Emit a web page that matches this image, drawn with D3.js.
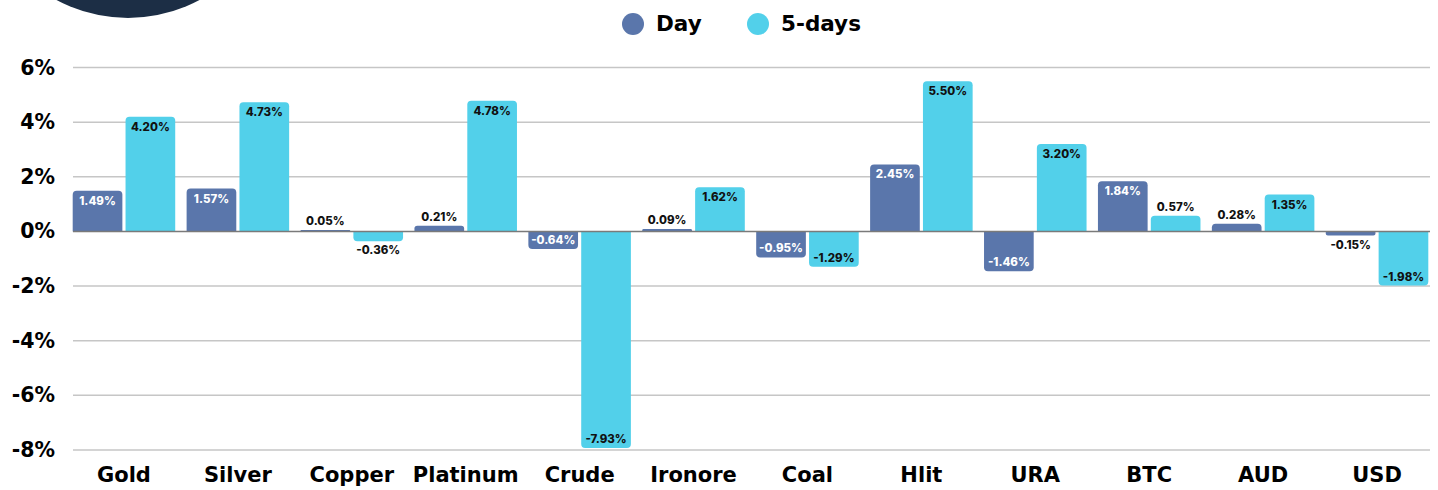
<!DOCTYPE html>
<html lang="en">
<head>
<meta charset="UTF-8">
<title>Day vs 5-days</title>
<script src="https://d3js.org/d3.v7.min.js"></script>
<style>
    body { margin: 0; background: #fff; font-family: "DejaVu Sans", Inter, Arial, sans-serif; }
    svg text { font-weight: 700; }
    .val { font-family: Inter, "Noto Sans", Arial, sans-serif; font-weight: 800; }
</style>
</head>
<body>
<svg id="chart" width="1438" height="490"></svg>
<script>
// data
const categories = ["Gold", "Silver", "Copper", "Platinum", "Crude", "Ironore", "Coal", "Hlit", "URA", "BTC", "AUD", "USD"];
const dayValues = [1.49, 1.57, 0.05, 0.21, -0.64, 0.09, -0.95, 2.45, -1.46, 1.84, 0.28, -0.15];
const fiveDayValues = [4.20, 4.73, -0.36, 4.78, -7.93, 1.62, -1.29, 5.50, 3.20, 0.57, 1.35, -1.98];
const seriesNames = ["Day", "5-days"];
const yTicks = [6, 4, 2, 0, -2, -4, -6, -8];

const colors = { "Day": "#5a76ab", "5-days": "#52d0ea" };
const labelColors = { "Day": "#ffffff", "5-days": "#111111" };

const svg = d3.select("#chart");
const W = 1438, H = 490;

// dark decoration top-left
svg.append("circle").attr("cx", 128).attr("cy", -133).attr("r", 151).attr("fill", "#1c2e45");

const x0 = d3.scaleBand().domain(categories).range([67, 1434]).paddingInner(0.1).paddingOuter(0.05);
const x1 = d3.scaleBand().domain(seriesNames).range([0, x0.bandwidth()]).paddingInner(0.06);
const y = d3.scaleLinear().domain([-8, 6]).range([450, 67.5]);

// grid
svg.append("g").selectAll("line")
    .data(yTicks.filter(d => d !== 0))
    .enter().append("line")
    .attr("x1", 73).attr("x2", 1430)
    .attr("y1", d => y(d)).attr("y2", d => y(d))
    .attr("stroke", "#c6c6c6").attr("stroke-width", 1.5);

// y labels
svg.append("g").selectAll("text")
    .data(yTicks)
    .enter().append("text")
    .attr("x", 55).attr("y", d => y(d) + 7)
    .attr("text-anchor", "end")
    .attr("font-size", 20.5)
    .attr("fill", "#000")
    .text(d => d + "%");

// bars
const rows = [];
categories.forEach((c, i) => {
    rows.push({ cat: c, s: "Day", v: dayValues[i] });
    rows.push({ cat: c, s: "5-days", v: fiveDayValues[i] });
});

function barPath(x, w, y0, y1) {
    const h = Math.abs(y1 - y0);
    const r = Math.min(4, h / 2, w / 2);
    if (y1 < y0) { // positive bar, round top
        return `M${x},${y0} V${y1 + r} Q${x},${y1} ${x + r},${y1} H${x + w - r} Q${x + w},${y1} ${x + w},${y1 + r} V${y0} Z`;
    }
    return `M${x},${y0} V${y1 - r} Q${x},${y1} ${x + r},${y1} H${x + w - r} Q${x + w},${y1} ${x + w},${y1 - r} V${y0} Z`;
}

const g = svg.append("g");
g.selectAll("path")
    .data(rows)
    .enter().append("path")
    .attr("d", d => barPath(x0(d.cat) + x1(d.s), x1.bandwidth(), y(0), y(d.v)))
    .attr("fill", d => colors[d.s]);

// zero line
svg.append("line")
    .attr("x1", 73).attr("x2", 1430)
    .attr("y1", y(0)).attr("y2", y(0))
    .attr("stroke", "#7a7a7a").attr("stroke-width", 1.5);

// value labels
g.selectAll("text")
    .data(rows)
    .enter().append("text")
    .attr("class", "val")
    .attr("x", d => x0(d.cat) + x1(d.s) + x1.bandwidth() / 2)
    .attr("y", d => {
        const inside = Math.abs(d.v) >= 0.6;
        if (d.v >= 0) return inside ? y(d.v) + 14 : y(d.v) - 5;
        return inside ? y(d.v) - 5 : y(d.v) + 13;
    })
    .attr("text-anchor", "middle")
    .attr("font-size", 11.5)
    .attr("fill", d => Math.abs(d.v) >= 0.6 ? labelColors[d.s] : "#111")
    .text(d => d.v.toFixed(2) + "%");

// category labels
svg.append("g").selectAll("text")
    .data(categories)
    .enter().append("text")
    .attr("x", d => x0(d) + x0.bandwidth() / 2)
    .attr("y", 482)
    .attr("text-anchor", "middle")
    .attr("font-size", 21)
    .attr("fill", "#000")
    .text(d => d);

// legend
const legend = svg.append("g");
const lx = [633, 758];
seriesNames.forEach((s, i) => {
    legend.append("circle").attr("cx", lx[i]).attr("cy", 24).attr("r", 11).attr("fill", colors[s]);
    legend.append("text").attr("x", lx[i] + 23).attr("y", 31)
        .attr("font-size", 21.5).attr("fill", "#000").text(s);
});
</script>
</body>
</html>
